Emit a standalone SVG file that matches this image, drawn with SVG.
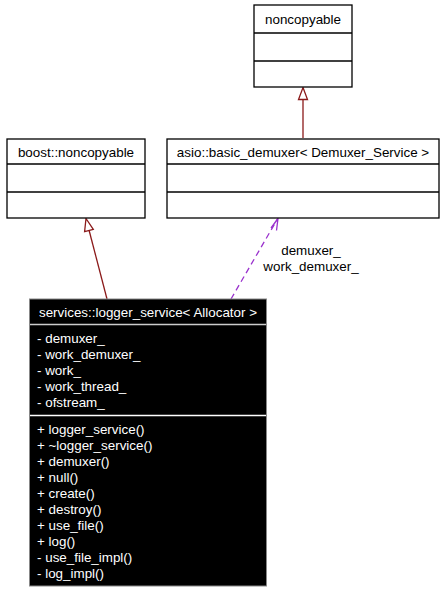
<svg xmlns="http://www.w3.org/2000/svg" width="447" height="594" viewBox="0 0 447 594">
<style>
text{font-family:"Liberation Sans",Arial,sans-serif;font-size:13.4px}
.box{fill:#fff;stroke:#000;stroke-width:1.3}
.ln{stroke:#000;stroke-width:1.3}
.c{text-anchor:middle;fill:#000}
.w{fill:#fff}
.inh{stroke:#8b1a1a;stroke-width:1.3;fill:none}
.use{stroke:#9a32cd;stroke-width:1.3;fill:none;stroke-dasharray:6,4}
</style>
<g id="connectors">
<line class="inh" x1="303" y1="138" x2="303" y2="99"/>
<path d="M303,87.5 L307.5,99.5 L298.5,99.5 Z" fill="#fff" stroke="#8b1a1a" stroke-width="1.3"/>
<line class="inh" x1="107" y1="299" x2="89" y2="230"/>
<path d="M86,218.5 L93.3,229.3 L84.6,231.6 Z" fill="#fff" stroke="#8b1a1a" stroke-width="1.3"/>
<line class="use" x1="231" y1="299" x2="277.5" y2="219"/>
<path d="M271,228 L278,218.5 L276.5,230.5" fill="none" stroke="#9a32cd" stroke-width="1.3"/>
<text x="311" y="255" class="c">demuxer_</text>
<text x="311" y="271" class="c">work_demuxer_</text>
</g>
<g id="noncopyable">
<rect class="box" x="254" y="5" width="98" height="82"/>
<line class="ln" x1="254" y1="33" x2="352" y2="33"/>
<line class="ln" x1="254" y1="61" x2="352" y2="61"/>
<text x="303" y="24" class="c">noncopyable</text>
</g>
<g id="boost_noncopyable">
<rect class="box" x="7" y="139" width="138" height="79"/>
<line class="ln" x1="7" y1="164" x2="145" y2="164"/>
<line class="ln" x1="7" y1="192" x2="145" y2="192"/>
<text x="76" y="157" class="c">boost::noncopyable</text>
</g>
<g id="basic_demuxer">
<rect class="box" x="167" y="139" width="272" height="79"/>
<line class="ln" x1="167" y1="164" x2="439" y2="164"/>
<line class="ln" x1="167" y1="192" x2="439" y2="192"/>
<text x="303" y="157" class="c">asio::basic_demuxer&lt; Demuxer_Service &gt;</text>
</g>
<g id="logger_service">
<rect x="29.5" y="299" width="237" height="287" fill="#000" stroke="#888" stroke-width="1"/>
<line x1="30" y1="324.5" x2="266" y2="324.5" stroke="#ccc" stroke-width="1.3"/>
<line x1="30" y1="415.5" x2="266" y2="415.5" stroke="#fff" stroke-width="1.3"/>
<text x="148" y="317" class="c" style="fill:#fff">services::logger_service&lt; Allocator &gt;</text>
<g class="w">
<text x="37" y="343">- demuxer_</text>
<text x="37" y="359">- work_demuxer_</text>
<text x="37" y="375">- work_</text>
<text x="37" y="391">- work_thread_</text>
<text x="37" y="407">- ofstream_</text>
<text x="37" y="434">+ logger_service()</text>
<text x="37" y="450">+ ~logger_service()</text>
<text x="37" y="466">+ demuxer()</text>
<text x="37" y="482">+ null()</text>
<text x="37" y="498">+ create()</text>
<text x="37" y="514">+ destroy()</text>
<text x="37" y="530">+ use_file()</text>
<text x="37" y="546">+ log()</text>
<text x="37" y="562">- use_file_impl()</text>
<text x="37" y="578">- log_impl()</text>
</g>
</g>
</svg>
